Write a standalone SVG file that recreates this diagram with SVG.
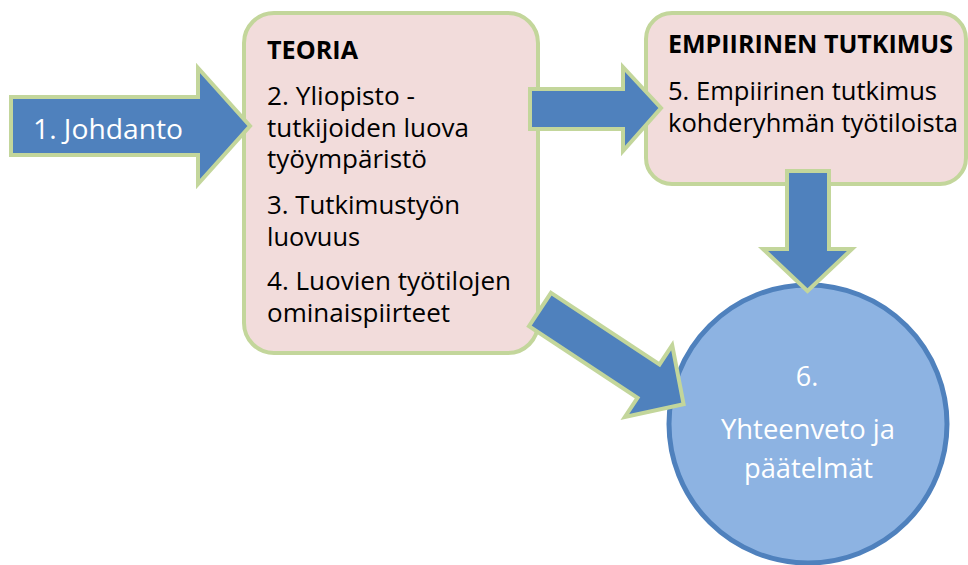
<svg xmlns="http://www.w3.org/2000/svg" width="968" height="565" viewBox="0 0 968 565">
  <style>
    .box { fill: #f2dcdb; stroke: #c3d69b; stroke-width: 4; }
    .arrow { fill: #4f81bd; stroke: #c3d69b; stroke-width: 4; stroke-linejoin: miter; }
    .circle { fill: #8db3e2; stroke: #4f81bd; stroke-width: 5; }
    .t { font-family: "Open Sans", "Noto Sans", sans-serif; font-size: 25px; fill: #000; }
    .h { font-weight: bold; }
    .w { fill: #ffffff; }
    .big { font-size: 27px; }
  </style>
  <rect width="968" height="565" fill="#ffffff"/>

  <!-- Theory block -->
  <g id="teoria">
    <rect class="box" x="244" y="13" width="294" height="340" rx="30" ry="30"/>
    <text class="t h" x="267" y="59" textLength="91" lengthAdjust="spacingAndGlyphs">TEORIA</text>
    <text class="t" x="267" y="105" textLength="148" lengthAdjust="spacingAndGlyphs">2. Yliopisto -</text>
    <text class="t" x="267" y="137" textLength="202" lengthAdjust="spacingAndGlyphs">tutkijoiden luova</text>
    <text class="t" x="267" y="168" textLength="160" lengthAdjust="spacingAndGlyphs">työympäristö</text>
    <text class="t" x="267" y="214" textLength="193" lengthAdjust="spacingAndGlyphs">3. Tutkimustyön</text>
    <text class="t" x="267" y="246" textLength="93" lengthAdjust="spacingAndGlyphs">luovuus</text>
    <text class="t" x="267" y="290" textLength="244" lengthAdjust="spacingAndGlyphs">4. Luovien työtilojen</text>
    <text class="t" x="267" y="322" textLength="183" lengthAdjust="spacingAndGlyphs">ominaispiirteet</text>
  </g>

  <!-- Empirical study block -->
  <g id="empiirinen">
    <rect class="box" x="646" y="13" width="320" height="171" rx="26" ry="26"/>
    <text class="t h" x="668" y="53" textLength="285" lengthAdjust="spacingAndGlyphs">EMPIIRINEN TUTKIMUS</text>
    <text class="t" x="668" y="100" textLength="269" lengthAdjust="spacingAndGlyphs">5. Empiirinen tutkimus</text>
    <text class="t" x="668" y="132" textLength="290" lengthAdjust="spacingAndGlyphs">kohderyhmän työtiloista</text>
  </g>

  <!-- Summary circle -->
  <g id="yhteenveto">
    <circle class="circle" cx="808" cy="424" r="139"/>
    <text class="t w big" x="807" y="386" text-anchor="middle">6.</text>
    <text class="t w big" x="808" y="439" text-anchor="middle" textLength="174" lengthAdjust="spacingAndGlyphs">Yhteenveto ja</text>
    <text class="t w big" x="808.5" y="478" text-anchor="middle" textLength="129" lengthAdjust="spacingAndGlyphs">päätelmät</text>
  </g>

  <!-- Introduction arrow -->
  <g id="johdanto">
    <polygon class="arrow" points="11,97 198,97 198,68 250,126 198,184 198,155 11,155"/>
    <text class="t w big" x="33" y="139" textLength="150" lengthAdjust="spacingAndGlyphs">1. Johdanto</text>
  </g>

  <!-- Connectors -->
  <g id="connectors">
    <polygon class="arrow" points="530,89 623,89 623,67 661,108 623,151 623,129 530,129"/>
    <polygon class="arrow" points="787,171 829,171 829,249 852,249 807.5,291 763,249 787,249"/>
    <polygon class="arrow" transform="translate(540,309.5) rotate(33.4)" points="0,-20 130,-20 130,-43 172,0 130,43 130,20 0,20"/>
  </g>
</svg>
